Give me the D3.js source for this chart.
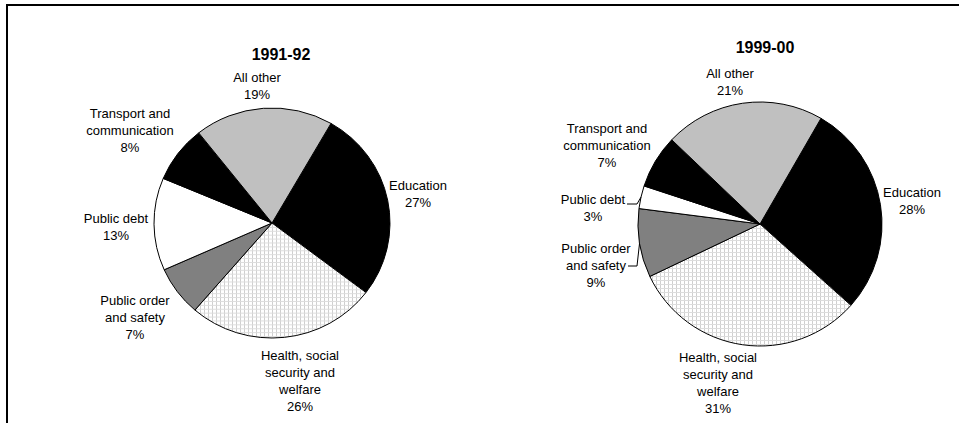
<!DOCTYPE html>
<html>
<head>
<meta charset="utf-8">
<script src="https://cdn.jsdelivr.net/npm/d3@7"></script>
<style>
  html, body { margin: 0; padding: 0; background: #fff; }
  svg { display: block; }
  text { font-family: "Liberation Sans", Arial, sans-serif; fill: #000; }
</style>
</head>
<body>
<svg id="chart" width="959" height="423"></svg>
<script>
// Shares of general government expenditure by purpose (%)
const categories = [
  "Education",
  "Health, social security and welfare",
  "Public order and safety",
  "Public debt",
  "Transport and communication",
  "All other"
];
const labelLines = [
  ["Education"],
  ["Health, social", "security and", "welfare"],
  ["Public order", "and safety"],
  ["Public debt"],
  ["Transport and", "communication"],
  ["All other"]
];
const years = ["1991-92", "1999-00"];
const share1991 = [27, 26, 7, 13, 8, 19];
const share1999 = [28, 31, 9, 3, 7, 21];

const fills = ["#000000", "url(#dots)", "#808080", "#ffffff", "#000000", "#c0c0c0"];

// Layout of each pie: centre, radii, title and label anchors (centre x, first line y)
const pies = [
  {
    year: years[0], values: share1991,
    cx: 272, cy: 223, rx: 118, ry: 115,
    title: [281, 54],
    labels: [[418, 185], [300, 355], [135, 300], [116, 218], [130, 113], [257, 77]],
    leaders: {}
  },
  {
    year: years[1], values: share1999,
    cx: 760, cy: 224, rx: 122, ry: 122,
    title: [765, 47],
    labels: [[912, 192], [718, 357], [596, 248], [593, 199], [607, 128], [730, 73]],
    leaders: { 3: { x0: 627, y: 204, x1: 637 }, 2: { x0: 628, y: 266, x1: 637 } }
  }
];

const svg = d3.select("#chart");

// Fine mesh fill for the health slice
const pat = svg.append("defs").append("pattern")
  .attr("id", "dots").attr("patternUnits", "userSpaceOnUse")
  .attr("width", 4).attr("height", 4);
pat.append("rect").attr("width", 4).attr("height", 4).attr("fill", "#ffffff");
pat.append("rect").attr("x", 0).attr("width", 1).attr("height", 4).attr("fill", "#cfcfcf");
pat.append("rect").attr("y", 0).attr("width", 4).attr("height", 1).attr("fill", "#dcdcdc");

// Frame
svg.append("path")
  .attr("d", "M7,423 V5 H959")
  .attr("fill", "none").attr("stroke", "#000").attr("stroke-width", 2);

const deg = Math.PI / 180;
const pie = d3.pie().sort(null).value(d => d)
  .startAngle(30 * deg).endAngle(390 * deg);

const lineH = 17;

pies.forEach(p => {
  const arcs = pie(p.values);
  const r = p.rx;
  const arc = d3.arc().innerRadius(0).outerRadius(r);

  const g = svg.append("g")
    .attr("transform", `translate(${p.cx},${p.cy}) scale(1,${p.ry / p.rx})`);

  g.selectAll("path").data(arcs).join("path")
    .attr("d", arc)
    .attr("fill", (d, i) => fills[i])
    .attr("stroke", "#000")
    .attr("stroke-width", 1)
    .attr("vector-effect", "non-scaling-stroke")
    .attr("stroke-linejoin", "round");

  svg.append("text")
    .attr("x", p.title[0]).attr("y", p.title[1])
    .attr("text-anchor", "middle").attr("dominant-baseline", "central")
    .attr("font-size", 16).attr("font-weight", "bold")
    .text(p.year);

  arcs.forEach((a, i) => {
    const [lx, ly] = p.labels[i];
    const lines = labelLines[i].concat([a.data + "%"]);
    const t = svg.append("text")
      .attr("text-anchor", "middle").attr("font-size", 13);
    lines.forEach((s, k) => {
      t.append("tspan")
        .attr("x", lx).attr("y", ly + k * lineH)
        .attr("dominant-baseline", "central")
        .text(s);
    });

    const ld = p.leaders[i];
    if (ld) {
      const mid = (a.startAngle + a.endAngle) / 2;
      const ex = p.cx + p.rx * Math.sin(mid);
      const ey = p.cy - p.ry * Math.cos(mid);
      svg.append("path")
        .attr("d", `M${ld.x0},${ld.y} H${ld.x1} L${ex},${ey}`)
        .attr("fill", "none").attr("stroke", "#000").attr("stroke-width", 1);
    }
  });
});
</script>
</body>
</html>
